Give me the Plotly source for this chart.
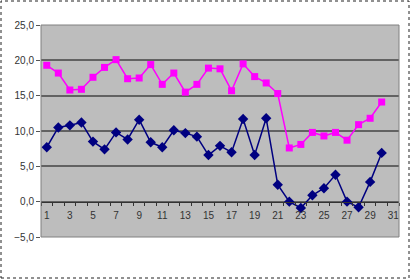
import plotly.graph_objects as go

days = list(range(1, 31))
pink_values = [19.3, 18.2, 15.8, 15.9, 17.6, 19.0, 20.1, 17.4, 17.5, 19.4,
               16.6, 18.2, 15.5, 16.6, 18.9, 18.8, 15.7, 19.5, 17.7, 16.8,
               15.3, 7.6, 8.1, 9.8, 9.3, 9.8, 8.7, 10.9, 11.8, 14.1]
navy_values = [7.7, 10.5, 10.8, 11.2, 8.5, 7.4, 9.8, 8.8, 11.6, 8.4,
               7.7, 10.1, 9.7, 9.2, 6.6, 7.9, 7.0, 11.7, 6.6, 11.8,
               2.4, 0.0, -0.9, 0.9, 1.9, 3.8, 0.0, -0.8, 2.8, 6.9]
x_tick_labels = [str(i) for i in range(1, 32, 2)]
y_ticks = [-5, 0, 5, 10, 15, 20, 25]

fig = go.Figure()
fig.add_trace(go.Scatter(
    x=days, y=pink_values, mode="lines+markers",
    line=dict(color="#FF00FF", width=1.5),
    marker=dict(symbol="square", size=7, color="#FF00FF"),
    showlegend=False))
fig.add_trace(go.Scatter(
    x=days, y=navy_values, mode="lines+markers",
    line=dict(color="#000080", width=1.5),
    marker=dict(symbol="diamond", size=8, color="#000080"),
    showlegend=False))

fig.update_layout(
    width=414, height=280,
    margin=dict(l=41, r=15, t=25, b=43),
    paper_bgcolor="white",
    plot_bgcolor="#bdbdbd",
    separators=",.",
    font=dict(family="Liberation Sans, Arial, sans-serif", size=10, color="#333333"),
    xaxis=dict(
        range=[0.5, 31.5],
        tickvals=list(range(1, 32, 2)),
        ticktext=x_tick_labels,
        ticks="", showgrid=False, zeroline=False,
        showline=True, linecolor="#333333", linewidth=1,
        anchor="free", position=(0 - (-5)) / 30,
        ticklabelstandoff=4,
        minor=dict(tick0=0.5, dtick=1, ticks="outside", ticklen=3,
                   tickcolor="#333333", showgrid=False),
        tickfont=dict(size=10, color="#333333"),
        fixedrange=True,
    ),
    yaxis=dict(
        range=[-5, 25],
        tickvals=y_ticks,
        tickformat=".1f",
        ticks="outside", ticklen=4, tickcolor="#555555",
        showgrid=True, gridcolor="#626262", gridwidth=1.5,
        zeroline=False, showline=False,
        tickfont=dict(size=10, color="#333333"),
        fixedrange=True,
    ),
    shapes=[
        dict(type="rect", xref="paper", yref="paper", x0=0, x1=1, y0=0, y1=1,
             line=dict(color="#808080", width=1), fillcolor="rgba(0,0,0,0)", layer="above"),
        dict(type="rect", xref="paper", yref="paper",
             x0=-40 / 358, x1=1 + 10 / 358, y0=-41 / 212, y1=1 + 24 / 212,
             line=dict(color="#222222", width=1, dash="dot"), fillcolor="rgba(0,0,0,0)"),
    ],
)

fig.write_html("out.html", config={"displayModeBar": False})
